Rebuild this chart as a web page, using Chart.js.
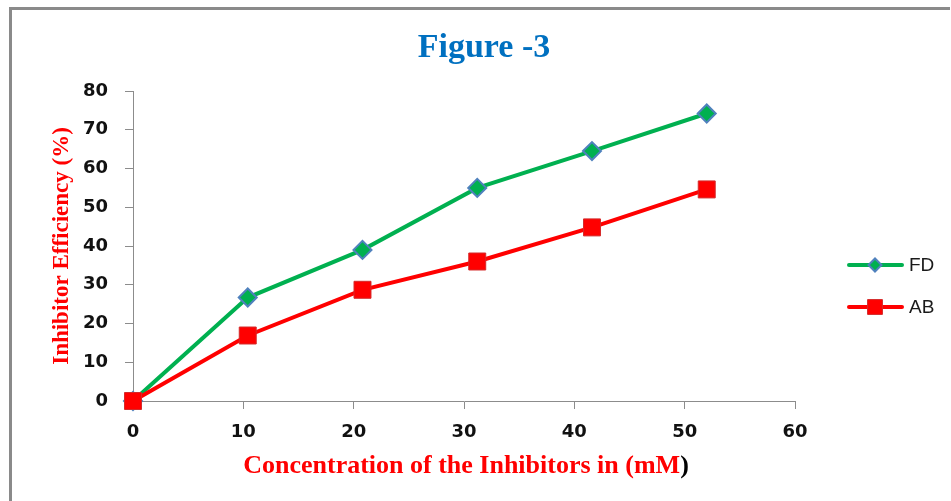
<!DOCTYPE html>
<html>
<head>
<meta charset="utf-8">
<script src="https://cdn.jsdelivr.net/npm/chart.js@4.4.1/dist/chart.umd.min.js"></script>
<style>
  html, body { margin: 0; padding: 0; background: #ffffff; }
  #wrap { width: 951px; height: 501px; }
</style>
</head>
<body>
<div id="wrap"><canvas id="chart" width="951" height="501"></canvas></div>
<script>
// Inhibitor efficiency versus inhibitor concentration
const concentrations = [0, 10.4, 20.8, 31.2, 41.6, 52];   // mM
const fdEfficiency   = [0, 26.7, 39.0, 55.0, 64.5, 74.2]; // %
const abEfficiency   = [0, 16.9, 28.7, 36.0, 44.8, 54.6]; // %
const xTicks = [0, 10, 20, 30, 40, 50, 60];
const yTicks = [0, 10, 20, 30, 40, 50, 60, 70, 80];
const seriesNames = ['FD', 'AB'];
const titleText = 'Figure -3';
const xTitleText = 'Concentration of the Inhibitors in (mM';
const xTitleClose = ')';
const yTitleText = 'Inhibitor Efficiency (%)';

const GREEN = '#00B050';
const RED = '#FF0000';
const AXIS = '#8c8c8c';

const toPoints = ys => concentrations.map((x, i) => ({ x: x, y: ys[i] }));

const series = [
  {
    label: seriesNames[0],
    data: toPoints(fdEfficiency),
    borderColor: GREEN,
    backgroundColor: GREEN,
    borderWidth: 4,
    pointStyle: 'rectRot',
    pointRadius: 9,
    pointBackgroundColor: GREEN,
    pointBorderColor: '#4F81BD',
    pointBorderWidth: 2,
    tension: 0,
    clip: false,
    order: 2
  },
  {
    label: seriesNames[1],
    data: toPoints(abEfficiency),
    borderColor: RED,
    backgroundColor: RED,
    borderWidth: 4,
    pointStyle: 'rect',
    pointRadius: 12,
    pointBackgroundColor: RED,
    pointBorderColor: '#d42a2a',
    pointBorderWidth: 1,
    tension: 0,
    clip: false,
    order: 1
  }
];

// Frame, title, axis titles and the legend box
const figureDecor = {
  id: 'figureDecor',
  beforeDraw(chart) {
    const ctx = chart.ctx;
    ctx.save();
    ctx.fillStyle = '#ffffff';
    ctx.fillRect(0, 0, chart.width, chart.height);
    ctx.strokeStyle = '#8a8a8a';
    ctx.lineWidth = 3;
    ctx.beginPath();
    ctx.moveTo(10.5, chart.height);
    ctx.lineTo(10.5, 8.5);
    ctx.lineTo(950, 8.5);
    ctx.stroke();
    ctx.restore();
  },
  afterDraw(chart) {
    const ctx = chart.ctx;
    ctx.save();

    // chart title
    ctx.fillStyle = '#0070C0';
    ctx.font = 'bold 34px "Liberation Serif", "Times New Roman", serif';
    ctx.textAlign = 'center';
    ctx.textBaseline = 'alphabetic';
    ctx.fillText(titleText, 484, 57);

    // x axis title (red text, black closing parenthesis)
    ctx.font = 'bold 26px "Liberation Serif", "Times New Roman", serif';
    ctx.textAlign = 'left';
    const w1 = ctx.measureText(xTitleText).width;
    const w2 = ctx.measureText(xTitleClose).width;
    const xStart = 466 - (w1 + w2) / 2;
    ctx.fillStyle = RED;
    ctx.fillText(xTitleText, xStart, 473);
    ctx.fillStyle = '#000000';
    ctx.fillText(xTitleClose, xStart + w1, 473);

    // y axis title
    ctx.font = 'bold 23px "Liberation Serif", "Times New Roman", serif';
    ctx.translate(68, 246);
    ctx.rotate(-Math.PI / 2);
    ctx.fillStyle = RED;
    ctx.textAlign = 'center';
    ctx.fillText(yTitleText, 0, 0);
    ctx.setTransform(1, 0, 0, 1, 0, 0);

    // legend
    const rows = [
      { ds: chart.data.datasets[0], y: 265, r: 6.5 },
      { ds: chart.data.datasets[1], y: 307, r: 10.5 }
    ];
    rows.forEach(row => {
      const ds = row.ds;
      ctx.strokeStyle = ds.borderColor;
      ctx.lineWidth = 4;
      ctx.lineCap = 'round';
      ctx.beginPath();
      ctx.moveTo(849, row.y);
      ctx.lineTo(902, row.y);
      ctx.stroke();
      ctx.lineCap = 'butt';
      ctx.fillStyle = ds.pointBackgroundColor;
      ctx.strokeStyle = ds.pointBorderColor;
      ctx.lineWidth = ds.pointBorderWidth;
      Chart.helpers.drawPoint(ctx, {
        pointStyle: ds.pointStyle,
        radius: row.r,
        rotation: 0,
        borderWidth: ds.pointBorderWidth
      }, 875, row.y);
      ctx.fillStyle = '#1a1a1a';
      ctx.font = '19px "Liberation Sans", Arial, sans-serif';
      ctx.textAlign = 'left';
      ctx.textBaseline = 'middle';
      ctx.fillText(ds.label, 909, row.y + 1);
    });
    ctx.restore();
  }
};

new Chart(document.getElementById('chart'), {
  type: 'line',
  data: { datasets: series },
  plugins: [figureDecor],
  options: {
    responsive: false,
    animation: false,
    devicePixelRatio: 1,
    layout: { padding: { top: 91, right: 156, bottom: 0, left: 0 } },
    plugins: {
      legend: { display: false },
      title: { display: false },
      tooltip: { enabled: false }
    },
    scales: {
      x: {
        type: 'linear',
        min: xTicks[0],
        max: xTicks[xTicks.length - 1],
        afterFit(scale) { scale.height = 100; },
        afterBuildTicks(scale) { scale.ticks = xTicks.map(v => ({ value: v })); },
        border: { display: true, color: AXIS, width: 1 },
        grid: { drawOnChartArea: false, drawTicks: true, tickLength: 8, color: AXIS },
        ticks: {
          padding: 13,
          color: '#111111',
          font: { family: '"DejaVu Sans", Verdana, sans-serif', weight: 'bold', size: 18 }
        }
      },
      y: {
        type: 'linear',
        min: yTicks[0],
        max: yTicks[yTicks.length - 1],
        afterFit(scale) { scale.width = 133; },
        afterBuildTicks(scale) { scale.ticks = yTicks.map(v => ({ value: v })); },
        border: { display: true, color: AXIS, width: 1 },
        grid: { drawOnChartArea: false, drawTicks: true, tickLength: 8, color: AXIS },
        ticks: {
          padding: 17,
          color: '#111111',
          font: { family: '"DejaVu Sans", Verdana, sans-serif', weight: 'bold', size: 18 }
        }
      }
    }
  }
});
</script>
</body>
</html>
